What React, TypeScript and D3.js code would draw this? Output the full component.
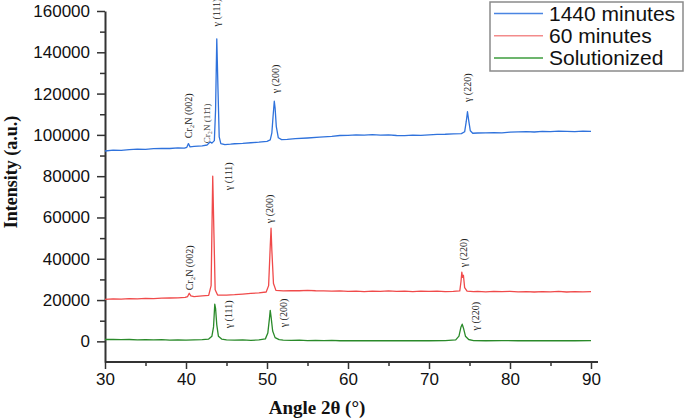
import React, { useEffect, useRef } from 'react';
import * as d3 from 'd3';

// XRD patterns, [2θ, intensity]
const min1440: [number, number][] = [
  [30, 92200], [31, 92600], [32, 92500], [33, 92900], [34, 93100], [35, 93000], [36, 93300], [37, 93500],
  [38, 93400], [39, 93700], [39.8, 93600], [40.1, 94000], [40.3, 95800], [40.5, 94200], [41, 94400],
  [42, 94700], [42.6, 95100], [43.0, 96600], [43.2, 96000], [43.5, 97200], [43.65, 112000], [43.8, 146500],
  [43.95, 122000], [44.1, 99000], [44.3, 95800], [44.8, 95300], [45.5, 95500], [46, 95700], [47, 95900],
  [48, 96200], [49, 96500], [50, 96900], [50.4, 97600], [50.6, 101000], [50.75, 109000], [50.9, 116300],
  [51.0, 113000], [51.15, 104000], [51.4, 98600], [51.8, 97700], [52.5, 97800], [53.5, 98200], [55, 98500],
  [56.5, 98900], [58, 99300], [59, 99700], [60, 99800], [61, 100000], [62, 99900], [63, 100100], [64, 99900],
  [65, 100000], [66, 99700], [67, 99600], [68, 99900], [69, 99800], [70, 100000], [71, 100200], [72, 100300],
  [73, 100500], [74, 100600], [74.4, 101500], [74.6, 106500], [74.75, 111200], [74.9, 107000], [75.1, 102000],
  [75.4, 100800], [76, 100900], [77, 101000], [78, 101100], [79, 101000], [80, 101300], [81, 101500],
  [82, 101600], [83, 101400], [84, 101700], [85, 101600], [86, 101800], [87, 101700], [88, 101600],
  [89, 101800], [90, 101700]
];

const min60: [number, number][] = [
  [30, 20300], [31, 20600], [32, 20500], [33, 20700], [34, 20600], [35, 20800], [36, 20700], [37, 20900],
  [38, 21000], [39, 21100], [39.9, 21300], [40.2, 21700], [40.4, 23300], [40.6, 22000], [41, 21700],
  [42, 22000], [42.8, 22300], [43.1, 27000], [43.3, 80000], [43.45, 52000], [43.6, 25000], [43.9, 22400],
  [45, 22400], [46, 22600], [47, 22900], [48, 23200], [49, 23500], [49.9, 23900], [50.2, 27000], [50.4, 46000],
  [50.5, 54800], [50.6, 44000], [50.8, 28000], [51.1, 24700], [52, 24400], [53, 24600], [54, 24500],
  [55, 24700], [56, 24500], [57, 24400], [58, 24300], [59, 24400], [60, 24200], [61, 24300], [62, 24100],
  [63, 24300], [64, 24200], [65, 24400], [66, 24200], [67, 24300], [68, 24100], [69, 24300], [70, 24200],
  [71, 24300], [72, 24100], [73, 24200], [73.8, 24400], [73.95, 29000], [74.05, 33500], [74.15, 31000],
  [74.25, 32000], [74.4, 26000], [74.7, 24300], [75.5, 24100], [76, 24200], [77, 24000], [78, 24200],
  [79, 24100], [80, 24200], [81, 24000], [82, 24100], [83, 23900], [84, 24100], [85, 24000], [86, 24200],
  [87, 23900], [88, 24100], [89, 24000], [90, 24100]
];

const solutionized: [number, number][] = [
  [30, 900], [31, 1000], [32, 800], [33, 900], [34, 700], [35, 800], [36, 700], [37, 800], [38, 600],
  [39, 700], [40, 600], [41, 700], [42, 800], [42.8, 1100], [43.2, 2500], [43.4, 7000], [43.55, 18000],
  [43.65, 16000], [43.8, 8000], [44.0, 2500], [44.4, 1100], [45, 700], [46, 600], [47, 700], [48, 500],
  [49, 700], [49.8, 1200], [50.1, 4000], [50.3, 11000], [50.4, 15000], [50.5, 12000], [50.7, 5000],
  [51, 1800], [51.5, 800], [52, 600], [53, 500], [54, 600], [55, 400], [56, 500], [57, 400], [58, 500],
  [59, 300], [60, 400], [62, 300], [64, 400], [66, 300], [68, 400], [70, 300], [72, 400], [73.3, 700],
  [73.7, 2500], [73.95, 7000], [74.1, 8300], [74.25, 6500], [74.5, 2500], [74.9, 900], [75.5, 400],
  [77, 300], [79, 400], [81, 300], [83, 400], [85, 300], [87, 400], [88, 300], [90, 400]
];

const seriesNames = ['1440 minutes', '60 minutes', 'Solutionized'];
const xTicks = [30, 40, 50, 60, 70, 80, 90];
const yTicks = [0, 20000, 40000, 60000, 80000, 100000, 120000, 140000, 160000];

// peak labels: text, 2θ, intensity at the bottom of the label
const peakLabels = [
  { text: 'γ (111)', angle: 43.8, value: 152500 },
  { text: 'γ (200)', angle: 51.0, value: 120200 },
  { text: 'γ (220)', angle: 74.8, value: 115900 },
  { text: 'Cr₂N (002)', angle: 40.25, value: 98400 },
  { text: 'Cr₂N (11\u03041)', angle: 42.6, value: 96000, small: true },
  { text: 'γ (111)', angle: 45.3, value: 73200 },
  { text: 'γ (200)', angle: 50.25, value: 57200 },
  { text: 'Cr₂N (002)', angle: 40.4, value: 24700 },
  { text: 'γ (220)', angle: 74.2, value: 35900 },
  { text: 'γ (111)', angle: 45.3, value: 6300 },
  { text: 'γ (200)', angle: 52.0, value: 6800 },
  { text: 'γ (220)', angle: 75.7, value: 5300 }
];

export default function App() {
  const ref = useRef<SVGSVGElement>(null);

  useEffect(() => {
    const width = 685, height = 418;
    const margin = { top: 11, right: 94, bottom: 56, left: 105 };
    const svg = d3.select(ref.current);
    svg.selectAll('*').remove();

    const x = d3.scaleLinear().domain([30, 90]).range([margin.left, width - margin.right]);
    const y = d3.scaleLinear().domain([-10000, 160000]).range([height - margin.bottom, margin.top]);

    const axisColor = '#333';
    const tickFont = '"Liberation Sans", Arial, sans-serif';
    const serif = '"Liberation Serif", "Times New Roman", serif';

    // minor ticks
    svg.append('g')
      .attr('transform', `translate(0,${y(-10000)})`)
      .call(d3.axisBottom(x).tickValues(d3.range(35, 90, 10)).tickSize(4).tickFormat(() => '').tickSizeOuter(0))
      .call(g => g.select('.domain').remove())
      .call(g => g.selectAll('line').attr('stroke', axisColor).attr('stroke-width', 1.5));
    svg.append('g')
      .attr('transform', `translate(${x(30)},0)`)
      .call(d3.axisLeft(y).tickValues(d3.range(10000, 160000, 20000)).tickSize(5).tickFormat(() => '').tickSizeOuter(0))
      .call(g => g.select('.domain').remove())
      .call(g => g.selectAll('line').attr('stroke', axisColor).attr('stroke-width', 1.5));

    // major axes
    svg.append('g')
      .attr('transform', `translate(0,${y(-10000)})`)
      .call(d3.axisBottom(x).tickValues(xTicks).tickFormat(d3.format('d')).tickSize(7).tickPadding(4).tickSizeOuter(0))
      .call(g => g.select('.domain').attr('stroke', axisColor).attr('stroke-width', 2)
        .attr('d', `M${x(30)},0H${x(90) + 7}`))
      .call(g => g.selectAll('line').attr('stroke', axisColor).attr('stroke-width', 1.5))
      .call(g => g.selectAll('text').attr('fill', '#111').attr('font-size', 17).attr('font-family', tickFont));
    svg.append('g')
      .attr('transform', `translate(${x(30)},0)`)
      .call(d3.axisLeft(y).tickValues(yTicks).tickFormat(d3.format('d')).tickSize(8).tickPadding(7).tickSizeOuter(0))
      .call(g => g.select('.domain').attr('stroke', axisColor).attr('stroke-width', 2))
      .call(g => g.selectAll('line').attr('stroke', axisColor).attr('stroke-width', 1.5))
      .call(g => g.selectAll('text').attr('fill', '#111').attr('font-size', 17).attr('font-family', tickFont));

    // curves
    const line = d3.line<[number, number]>().x(d => x(d[0])).y(d => y(d[1]));
    const series = [
      { data: min1440, color: '#2f72dc' },
      { data: min60, color: '#f04a4a' },
      { data: solutionized, color: '#2a8a2a' }
    ];
    series.forEach(s => {
      svg.append('path')
        .attr('d', line(s.data))
        .attr('fill', 'none')
        .attr('stroke', s.color)
        .attr('stroke-width', 1.3)
        .attr('stroke-linejoin', 'round');
    });

    // peak labels
    svg.append('g')
      .selectAll('text')
      .data(peakLabels)
      .join('text')
      .attr('transform', d => `translate(${x(d.angle)},${y(d.value)}) rotate(-90)`)
      .attr('dy', '0.35em')
      .attr('font-family', serif)
      .attr('font-size', d => (d.small ? 9 : 10))
      .attr('fill', d => (d.small ? '#444' : '#222'))
      .text(d => d.text);

    // axis titles
    svg.append('text')
      .attr('x', 317)
      .attr('y', 414)
      .attr('text-anchor', 'middle')
      .attr('font-family', serif)
      .attr('font-weight', 'bold')
      .attr('font-size', 19)
      .attr('fill', '#111')
      .text('Angle 2θ (°)');
    svg.append('text')
      .attr('transform', 'translate(17,172) rotate(-90)')
      .attr('text-anchor', 'middle')
      .attr('font-family', serif)
      .attr('font-weight', 'bold')
      .attr('font-size', 18)
      .attr('fill', '#111')
      .text('Intensity (a.u.)');

    // legend
    const legendColors = ['#4a85e2', '#f38b8b', '#3c9c3c'];
    const lg = svg.append('g').attr('transform', 'translate(490,2)');
    lg.append('rect')
      .attr('width', 193).attr('height', 69)
      .attr('fill', '#fff').attr('stroke', '#8a8a8a').attr('stroke-width', 1.5);
    seriesNames.forEach((name, i) => {
      const ly = 11.5 + i * 22.3;
      lg.append('line')
        .attr('x1', 4).attr('x2', 53).attr('y1', ly).attr('y2', ly)
        .attr('stroke', legendColors[i]).attr('stroke-width', 1.5);
      lg.append('text')
        .attr('x', 59).attr('y', ly + 7)
        .attr('font-family', tickFont)
        .attr('font-size', 21)
        .attr('fill', '#111')
        .text(name);
    });
  }, []);

  return (
    <svg
      ref={ref}
      width={685}
      height={418}
      style={{ position: 'absolute', left: 0, top: 0, background: '#fff' }}
    />
  );
}
